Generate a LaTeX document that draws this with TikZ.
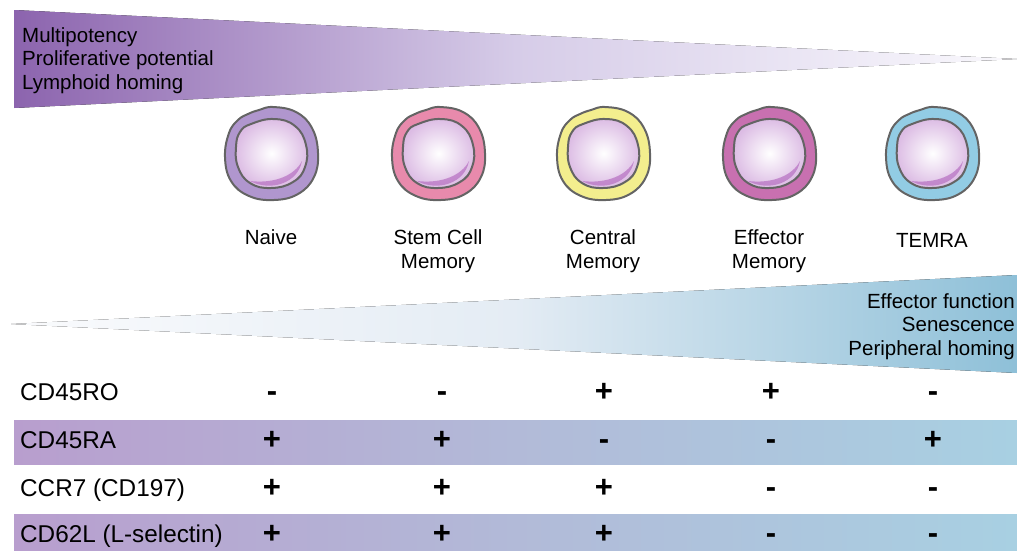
\documentclass[tikz,border=0pt]{standalone}
\usepackage{fontspec}
\setmainfont{Liberation Sans}
\definecolor{gradA}{RGB}{140,100,174}
\definecolor{gradB}{RGB}{214,204,232}
\definecolor{gradC}{RGB}{250,249,253}
\definecolor{blueA}{RGB}{250,251,253}
\definecolor{blueB}{RGB}{228,236,244}
\definecolor{blueC}{RGB}{142,192,216}
\definecolor{bandL}{RGB}{184,158,206}
\definecolor{bandM}{RGB}{178,186,216}
\definecolor{bandR}{RGB}{168,208,226}
\definecolor{membrane}{RGB}{100,100,100}
\definecolor{nucleus}{RGB}{220,188,228}
\definecolor{crescent}{RGB}{178,104,190}
\definecolor{naivec}{RGB}{176,150,206}
\definecolor{stemc}{RGB}{232,138,172}
\definecolor{centralc}{RGB}{243,238,142}
\definecolor{effectorc}{RGB}{200,112,176}
\definecolor{temrac}{RGB}{146,204,228}
\tikzset{
  txt/.style={inner sep=0pt, font=\fontsize{20.5}{23.5}\selectfont},
  rowlabel/.style={inner sep=0pt, anchor=base west, font=\fontsize{24.3}{27}\selectfont},
  sign/.style={inner sep=0pt, anchor=base, font=\fontsize{31}{33}\selectfont\bfseries},
  band/.style={left color=bandL, right color=bandR, middle color=bandM},
  pics/tcell/.style={code={
    % cytoplasm with membrane
    \filldraw[fill=#1, draw=membrane, line width=2pt]
      plot[smooth cycle, tension=0.7] coordinates {
        (2,-46) (25,-41) (41,-25) (47,0) (43,24) (27,41) (3,47)
        (-22,43) (-40,28) (-46,4) (-42,-20) (-33,-33) (-23,-39) (-12,-43)};
    % nucleus
    \shade[inner color=white, outer color=nucleus]
      plot[smooth cycle, tension=0.75] coordinates {
        (-20,-29) (3,-34) (24,-27) (35,-8) (34,14) (22,29) (0,35)
        (-21,30) (-33,14) (-35,-6) (-31,-21)};
    % crescent along the lower right of the nucleus
    \fill[crescent, opacity=0.65]
      (-21,28) .. controls (0,39) and (27,30) .. (31,8)
      .. controls (24,22) and (4,31) .. (-21,28) -- cycle;
    \draw[membrane, line width=2pt]
      plot[smooth cycle, tension=0.75] coordinates {
        (-20,-29) (3,-34) (24,-27) (35,-8) (34,14) (22,29) (0,35)
        (-21,30) (-33,14) (-35,-6) (-31,-21)};
  }}
}
\begin{document}
\begin{tikzpicture}[x=1pt,y=-1pt]
\useasboundingbox (0,0) rectangle (1017,550);

% top wedge: decreasing potency
\fill[left color=gradA, right color=gradC, middle color=gradB]
  (14,10) -- (1017,59) -- (14,108) -- cycle;
\node[txt, anchor=base west, align=left] (potency) at (22,89)
  {Multipotency\\Proliferative potential\\Lymphoid homing};

% bottom wedge: increasing effector function
\fill[left color=blueA, right color=blueC, middle color=blueB]
  (11,324) -- (1017,275) -- (1017,373) -- cycle;
\node[txt, anchor=base east, align=right] (effector) at (1015,355)
  {Effector function\\Senescence\\Peripheral homing};

% cells
\pic (naive)    at (271,153) {tcell=naivec};
\pic (stem)     at (438,153) {tcell=stemc};
\pic (central)  at (603,153) {tcell=centralc};
\pic (effmem)   at (769,153) {tcell=effectorc};
\pic (temra)    at (932,153) {tcell=temrac};

\node[txt, anchor=base] (lnaive) at (271,244) {Naive};
\node[txt, anchor=base, align=center] (lstem) at (438,268) {Stem Cell\\Memory};
\node[txt, anchor=base, align=center] (lcentral) at (603,268) {Central\\Memory};
\node[txt, anchor=base, align=center] (leffmem) at (769,268) {Effector\\Memory};
\node[txt, anchor=base] (ltemra) at (932,247) {TEMRA};

% marker table
\fill[band] (14,420) rectangle (1017,464);
\fill[band] (14,514) rectangle (1017,550);

\node[rowlabel] (r1) at (20,400) {CD45RO};
\node[rowlabel] (r2) at (20,448) {CD45RA};
\node[rowlabel] (r3) at (20,496) {CCR7 (CD197)};
\node[rowlabel] (r4) at (20,542) {CD62L (L-selectin)};

\foreach \y/\a/\b/\c/\d/\e [count=\r] in
  {401/-/-/+/+/-, 449/+/+/-/-/+, 497/+/+/+/-/-, 543/+/+/+/-/-}{
  \node[sign] (s\r-1) at (272,\y) {\a};
  \node[sign] (s\r-2) at (442,\y) {\b};
  \node[sign] (s\r-3) at (604,\y) {\c};
  \node[sign] (s\r-4) at (771,\y) {\d};
  \node[sign] (s\r-5) at (933,\y) {\e};
}
\end{tikzpicture}
\end{document}
